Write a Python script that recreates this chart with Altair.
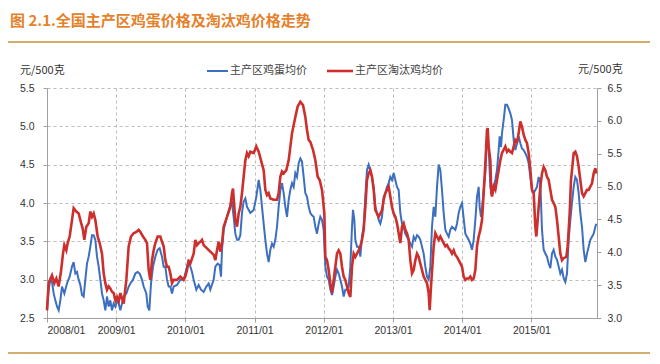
import altair as alt
import pandas as pd

# ---------------- data (week index since 2008/01, price in 元/500克) ----------------
# 主产区鸡蛋均价 (left axis)
egg_weeks_a = [0, 1.25, 2.5, 3.75, 5, 6.25, 7.5, 8.75, 10, 11.25, 13, 15, 17, 18.75, 20, 21.25, 22.5, 23.75, 25, 26.25,
               27.5, 28.75, 30, 31.25, 32.5, 33.75, 35, 36.25, 37.5, 38.75, 40, 41.25, 42.5, 43.75, 45, 46.25, 47.5, 48.75, 50, 51.25,
               52.5, 53.75, 55, 56.25, 57.5, 59.5, 61.25, 62.5, 64.5, 66.25, 68, 69.5, 71.25, 72.5, 74.5, 75.5, 76.75, 78, 79.5, 81.25,
               83, 84.5, 86.25, 87.5, 88.75, 90, 91.25, 92.5, 93.75, 95, 97.5, 100]
egg_vals_a = [2.60, 2.87, 3.00, 2.97, 2.82, 2.73, 2.65, 2.60, 2.73, 2.91, 2.82, 2.95, 3.04, 3.17, 3.23, 3.08, 3.10, 3.00, 2.93, 2.80,
              2.78, 3.00, 3.21, 3.30, 3.43, 3.58, 3.58, 3.52, 3.30, 3.17, 3.00, 2.82, 2.73, 2.60, 2.78, 2.65, 2.73, 2.60, 2.69, 2.65,
              2.73, 2.69, 2.60, 2.69, 2.78, 2.82, 2.91, 2.95, 3.00, 3.08, 3.10, 3.08, 3.00, 2.91, 2.82, 2.65, 2.60, 2.95, 3.17, 3.30,
              3.39, 3.41, 3.30, 3.17, 3.17, 3.00, 2.91, 2.91, 2.82, 2.91, 2.93, 3.00]
egg_weeks_b = [102.5, 105, 106.25, 107.5, 108.75, 110, 112, 113.75, 115.5, 117.5, 119.5, 121.25, 122.5, 125, 126.25, 128, 129.5, 130.5, 131.25, 132.5,
               135, 137.5, 138.75, 140, 141.25, 142.5, 143.75, 145, 146.25, 147.5, 148.75, 150, 152.5, 155, 157, 158.75, 160, 161.25, 162.5, 163.75,
               165, 166.25, 167.5, 168.75, 170, 171.25, 172.5, 173.75, 175, 176.25, 177.5, 178.75, 180, 181.25, 182.5, 183.75, 185, 186.25, 187.5, 188.75,
               190, 191.25, 192.5, 193.75, 195, 196.25, 197.5, 198.75, 200, 201.25, 202.5, 203.75, 205]
egg_vals_b = [3.00, 3.17, 3.26, 3.17, 3.10, 3.00, 2.87, 2.93, 2.87, 2.84, 2.91, 2.95, 2.87, 3.00, 3.17, 3.21, 3.19, 3.04, 3.39, 3.65,
              3.82, 3.97, 4.00, 3.82, 3.60, 3.52, 3.52, 3.58, 3.87, 4.02, 4.06, 3.95, 3.87, 3.91, 4.08, 4.30, 4.17, 3.95, 3.73, 3.52,
              3.34, 3.23, 3.39, 3.47, 3.43, 3.52, 3.69, 3.95, 4.17, 4.26, 4.13, 3.95, 3.82, 4.04, 4.17, 4.26, 4.21, 4.39, 4.34, 4.52,
              4.58, 4.54, 4.34, 4.13, 4.08, 3.95, 3.87, 3.84, 3.82, 3.69, 3.60, 3.73, 3.82]
egg_weeks_c = [206.25, 207.5, 208.75, 210, 211.25, 212.5, 213.75, 215, 216.25, 217.5, 218.75, 220, 221.25, 222.5, 223.75, 225, 226.25, 227.5, 228.75, 229.5,
               230.5, 231.25, 232.5, 233.75, 235, 236.25, 237.5, 238.75, 240, 241.25, 242.5, 243.75, 245, 246.25, 247.5, 248.75, 250, 251.25, 252.5, 253.75,
               255, 256.25, 257.5, 258.75, 260, 261.25, 262.5, 263.75, 265, 266.25, 267.5, 268.75, 270, 271.25, 272.5, 273.75, 275, 276.25, 277.5, 278.75,
               280, 281.25, 282.5, 283.75, 285, 286.25, 287.5, 288.75, 290, 291.25, 292.5, 293.75, 295, 296.25, 297.5, 298.75, 300, 301.25, 302.5, 303.75,
               305, 306.25, 307.5, 308.75, 310, 311.25]
egg_vals_c = [3.78, 3.65, 3.17, 3.04, 3.00, 2.87, 2.80, 2.91, 3.04, 3.13, 3.08, 3.00, 2.91, 2.78, 2.87, 2.87, 2.91, 3.17, 3.69, 3.91,
              3.78, 3.52, 3.43, 3.43, 3.30, 3.56, 3.69, 4.08, 4.43, 4.50, 4.43, 4.34, 4.21, 3.95, 3.87, 3.78, 3.73, 3.82, 4.08, 4.13,
              4.21, 4.26, 4.34, 4.30, 4.39, 4.30, 4.21, 4.17, 3.87, 3.73, 3.69, 3.60, 3.56, 3.52, 3.47, 3.43, 3.56, 3.52, 3.58, 3.56,
              3.52, 3.43, 3.34, 3.17, 3.04, 3.00, 3.17, 3.69, 3.95, 3.82, 4.21, 4.50, 4.43, 4.17, 3.87, 3.65, 3.60, 3.56, 3.65, 3.69,
              3.67, 3.65, 3.73, 3.87, 3.95, 4.00]
egg_weeks_d = [313.75, 315, 316.25, 317.5, 318.75, 320, 321.25, 322.5, 323.75, 324.5, 325.5, 326.25, 327.5, 328.75, 330, 331.25, 332.5, 333.75, 335, 336.25,
               337.5, 338.75, 339.5, 340.5, 341.25, 342.5, 343.75, 345, 346.25, 347.5, 348.75, 350, 351.25, 352.5, 353.75, 355, 356.25, 357.5, 358.75, 360,
               361.25, 362.5, 363.75, 365, 366.25, 367.5, 368.75, 370, 371.25, 372.5, 373.75, 375, 376.25, 377.5, 378.75, 380, 381.25, 382.5, 383.75, 385,
               386.25, 387.5, 388.75, 390, 391.25, 392.5, 393.75, 395, 396.25, 397.5, 398.75, 400, 401.25, 402.5, 403.75, 405, 406.25, 407.5, 408.75, 410,
               411.25, 412]
egg_vals_d = [3.60, 3.56, 3.52, 3.47, 3.39, 3.52, 3.78, 4.08, 4.21, 3.95, 3.82, 3.91, 4.17, 4.39, 4.87, 4.73, 4.21, 4.10, 4.21, 4.30,
              4.43, 4.69, 4.87, 4.73, 4.91, 5.08, 5.28, 5.28, 5.23, 5.17, 5.08, 4.82, 4.69, 4.78, 4.87, 4.78, 4.71, 4.69, 4.65, 4.60,
              4.52, 4.34, 4.17, 4.13, 4.17, 4.21, 4.34, 4.26, 3.65, 3.39, 3.34, 3.30, 3.21, 3.15, 3.34, 3.39, 3.30, 3.26, 3.17, 3.08,
              3.13, 3.02, 2.97, 3.08, 3.52, 3.78, 4.00, 4.21, 4.34, 4.30, 4.13, 3.87, 3.69, 3.39, 3.23, 3.34, 3.43, 3.52, 3.56, 3.60,
              3.69, 3.73]

# 主产区淘汰鸡均价 (right axis)
hen_weeks_a = [0, 1.25, 3.75, 5.5, 7, 8.75, 10.5, 12, 13, 14.5, 15.5, 17, 18.75, 20, 22, 23.75, 25, 26.75, 28, 29.5,
               31.25, 32.5, 33.75, 35, 36.25, 38, 39.5, 41.25, 42.5, 43.75, 45, 46.25, 47.5, 48.75, 50, 51.25, 52.5, 53.75, 55, 57.5,
               59.5, 61.25, 63, 65, 67, 68.75, 70, 72, 73.75, 75, 76.25, 77.5, 78.75, 80, 81.25, 83, 85, 86.25, 87.5, 88.75,
               90, 91.25, 92.5, 93.75, 95, 97.5, 100]
hen_vals_a = [3.12, 3.53, 3.65, 3.53, 3.60, 3.48, 3.71, 3.98, 4.11, 4.03, 4.14, 4.24, 4.49, 4.67, 4.62, 4.59, 4.49, 4.36, 4.19, 4.39,
              4.44, 4.62, 4.54, 4.59, 4.49, 4.24, 4.14, 3.98, 3.68, 3.53, 3.43, 3.48, 3.45, 3.40, 3.38, 3.27, 3.32, 3.25, 3.38, 3.22,
              3.58, 4.09, 4.24, 4.29, 4.31, 4.34, 4.31, 4.24, 4.19, 4.14, 3.73, 3.58, 3.88, 4.03, 4.14, 4.24, 4.24, 4.16, 4.09, 3.88,
              3.78, 3.78, 3.68, 3.53, 3.58, 3.58, 3.63]
hen_weeks_b = [102.5, 103.75, 105, 106.25, 107.5, 110, 111.25, 112.5, 113.75, 115, 116.25, 117.5, 120, 122.5, 125, 126.25, 127.5, 128.75, 130, 131.25,
               132.5, 135, 137.5, 138.75, 139.5, 140.5, 141.25, 142.5, 143.75, 145, 146.25, 147.5, 148.75, 150, 151.25, 152.5, 155, 157, 158.75, 160.5,
               162.5, 163.75, 165, 166.25, 167.5, 170, 172.5, 173.75, 175, 176.25, 177.5, 179.5, 181.25, 183.75, 186.25, 188, 190, 192, 193.75, 195,
               196.25, 197.5, 199.5, 201.25, 203, 204.5, 206.25, 207, 208, 208.75]
hen_vals_b = [3.58, 3.63, 3.73, 3.86, 3.83, 3.98, 4.19, 4.11, 4.14, 4.16, 4.19, 4.11, 4.06, 4.01, 3.96, 3.88, 4.03, 4.16, 4.01, 4.14,
              4.39, 4.54, 4.69, 4.90, 4.97, 4.69, 4.49, 4.39, 4.59, 4.69, 4.90, 5.15, 5.40, 5.51, 5.46, 5.53, 5.51, 5.61, 5.53, 5.40,
              5.25, 4.95, 4.87, 4.90, 4.82, 4.80, 4.80, 4.90, 5.15, 5.23, 5.20, 5.25, 5.40, 5.81, 6.06, 6.22, 6.29, 6.24, 6.06, 5.86,
              5.71, 5.68, 5.56, 5.40, 5.15, 5.10, 4.95, 4.80, 4.59, 3.93]
hen_weeks_c = [210, 211.25, 212.5, 213.75, 215, 216.25, 217.5, 218.75, 220, 221.25, 222.5, 223.75, 225, 226.25, 227.5, 228.75, 230, 231.25, 232.5, 233.75,
               235, 236.25, 237.5, 238.75, 240, 241.25, 242.5, 243.75, 245, 246.25, 247.5, 248.75, 250, 251.25, 252.5, 253.75, 255, 256.25, 257.5, 258.75,
               260, 261.25, 262.5, 263.75, 265, 266.25, 267.5, 268.75, 270, 271.25, 272.5, 273.75, 275, 276.25, 277.5, 278.75, 280, 281.25, 282.5, 283.75,
               285, 286.25, 287, 288, 289, 290, 291.25, 292.5, 293.75, 295, 296.25, 297.5, 298.75, 300, 301.25, 302.5, 303.75, 305, 306.25, 307.5,
               308.75, 310, 311.25, 312.5, 313.75, 315]
hen_vals_c = [3.88, 3.73, 3.53, 3.38, 3.58, 3.78, 3.98, 4.03, 3.98, 3.78, 3.63, 3.58, 3.48, 3.38, 3.32, 3.78, 3.98, 3.93, 3.98, 4.03,
              4.09, 4.19, 4.34, 4.69, 5.10, 5.20, 5.25, 5.15, 4.95, 4.64, 4.59, 4.54, 4.59, 4.64, 4.80, 4.90, 4.95, 5.00, 4.85, 4.69,
              4.59, 4.54, 4.44, 4.29, 4.14, 4.39, 4.44, 4.34, 4.29, 4.19, 3.88, 3.68, 3.73, 3.88, 3.98, 3.93, 3.83, 3.73, 3.63, 3.58,
              3.53, 3.38, 3.12, 3.48, 3.78, 4.09, 4.29, 4.24, 4.19, 4.24, 4.19, 4.14, 4.09, 4.11, 4.06, 4.03, 3.98, 4.03, 3.96, 3.93,
              3.88, 3.83, 3.78, 3.63, 3.58, 3.60]
hen_weeks_d = [316.25, 317.5, 318.75, 320, 321.25, 322.5, 323.75, 325, 326.25, 327.5, 328.75, 330, 330.5, 331.25, 332.5, 333.25, 333.75, 335, 336.25, 337.5,
               338.75, 340, 341.25, 342.5, 343.75, 345, 346.25, 347.5, 348.75, 350, 351.25, 352.5, 353.75, 355, 356.25, 357.5, 358.75, 360, 361.25, 362.5,
               363.75, 365, 366.25, 367, 368, 368.75, 370, 371.25, 372.5, 373.75, 375, 376.25, 377.5, 378.75, 380, 381.25, 382.5, 383.75, 385, 386.25,
               387.5, 389.5, 390.5, 392, 393, 394, 395, 396.25, 397.5, 398.75, 400, 401.25, 402.5, 403.75, 405, 406.25, 407.5, 408.75, 410, 411.25,
               412]
hen_vals_d = [3.60, 3.63, 3.58, 3.60, 3.73, 4.09, 4.24, 4.34, 4.49, 4.90, 5.35, 5.86, 5.89, 5.61, 5.40, 4.90, 4.85, 5.00, 4.95, 5.10,
              5.25, 5.40, 5.51, 5.56, 5.61, 5.53, 5.56, 5.53, 5.51, 5.61, 5.71, 5.68, 5.81, 5.99, 5.91, 5.79, 5.71, 5.66, 5.51, 5.25,
              4.95, 4.90, 4.39, 4.24, 4.49, 4.69, 5.00, 5.20, 5.30, 5.25, 5.15, 5.10, 4.95, 4.80, 4.75, 4.69, 4.49, 4.24, 3.98, 3.88,
              3.91, 3.93, 4.09, 4.59, 5.10, 5.30, 5.51, 5.53, 5.46, 5.30, 5.10, 4.90, 4.85, 4.90, 4.95, 4.95, 5.00, 5.05, 5.20, 5.28,
              5.20]

year_labels = ["2008/01", "2009/01", "2010/01", "2011/01", "2012/01", "2013/01", "2014/01", "2015/01"]
left_ticks = [2.5, 3.0, 3.5, 4.0, 4.5, 5.0, 5.5]
right_ticks = [3.0, 3.5, 4.0, 4.5, 5.0, 5.5, 6.0, 6.5]

title_text = "图 2.1.全国主产区鸡蛋价格及淘汰鸡价格走势"
unit_text = "元/500克"
egg_name = "主产区鸡蛋均价"
hen_name = "主产区淘汰鸡均价"

# ---------------- chart ----------------
BLUE = "#3D6FC0"
RED = "#CC2F2C"
ORANGE = "#E5812A"
TAN = "#D2AE6E"
GRID = "#BDBDBD"
AXIS = "#A0A0A0"
LBL = "#333333"
NUM_FONT = "Liberation Sans"
CJK = "Noto Sans CJK SC"
YEAR = 51.9

egg = pd.DataFrame({"week": egg_weeks_a + egg_weeks_b + egg_weeks_c + egg_weeks_d,
                    "price": egg_vals_a + egg_vals_b + egg_vals_c + egg_vals_d})
hen = pd.DataFrame({"week": hen_weeks_a + hen_weeks_b + hen_weeks_c + hen_weeks_d,
                    "price": hen_vals_a + hen_vals_b + hen_vals_c + hen_vals_d})

tick_vals = [round(i * YEAR, 2) for i in range(len(year_labels))]
label_expr = "[" + ",".join("'" + s + "'" for s in year_labels) + "][round(datum.value / " + str(YEAR) + ")]"

x_scale = alt.Scale(domain=[0, 412.5], nice=False, zero=False)


def x_axis():
    return alt.Axis(values=tick_vals, labelExpr=label_expr, title=None, grid=True,
                    gridDash=[3, 3], gridColor=GRID, gridWidth=1,
                    domainColor=AXIS, tickColor=AXIS, tickSize=4,
                    labelFont=NUM_FONT, labelFontSize=10.5, labelColor=LBL, labelPadding=3)


blue = alt.Chart(egg).mark_line(color=BLUE, strokeWidth=2).encode(
    x=alt.X("week:Q", scale=x_scale, axis=x_axis()),
    y=alt.Y("price:Q", scale=alt.Scale(domain=[2.5, 5.5], nice=False, zero=False),
            axis=alt.Axis(values=left_ticks, format=".1f", title=None, grid=True,
                          gridDash=[3, 3], gridColor=GRID, domainColor=AXIS, tickColor=AXIS,
                          tickSize=4, labelFont=NUM_FONT, labelFontSize=10.5, labelColor=LBL,
                          labelPadding=9)),
)

red = alt.Chart(hen).mark_line(color=RED, strokeWidth=2.6).encode(
    x=alt.X("week:Q", scale=x_scale, axis=x_axis()),
    y=alt.Y("price:Q", scale=alt.Scale(domain=[3.0, 6.5], nice=False, zero=False),
            axis=alt.Axis(orient="right", values=right_ticks, format=".1f", title=None, grid=False,
                          domainColor=AXIS, tickColor=AXIS, tickSize=4, labelFont=NUM_FONT,
                          labelFontSize=10.5, labelColor=LBL, labelPadding=6)),
)

one = pd.DataFrame({"k": [0]})


def label(text, x, y, size=11, color=LBL, font=CJK, weight="normal", align="left"):
    return alt.Chart(pd.DataFrame({"t": [text]})).mark_text(
        align=align, baseline="middle", font=font, fontSize=size, color=color, fontWeight=weight
    ).encode(text="t:N", x=alt.value(x), y=alt.value(y))


def hline(x1, x2, y, color, width):
    return alt.Chart(one).mark_rule(color=color, strokeWidth=width).encode(
        x=alt.value(x1), x2=alt.value(x2), y=alt.value(y))


decor = [
    label(title_text, -37, -67, size=15, color=ORANGE, weight="bold"),
    hline(-39, 603, -46, TAN, 2),
    hline(-39, 603, 265, TAN, 2),
    label(unit_text, -27, -17),
    label(unit_text, 531, -18),
    hline(160, 181, -17, BLUE, 2),
    label(egg_name, 183, -17, color="#444444"),
    hline(280, 306, -17, RED, 2.6),
    label(hen_name, 308, -17, color="#444444"),
]

chart = alt.layer(blue, red, *decor).resolve_scale(y="independent").properties(
    width=550, height=230,
    autosize=alt.AutoSizeParams(type="none"),
    padding={"left": 39, "top": 80, "right": 55, "bottom": 38},
    background="#FFFFFF",
).configure_view(stroke=None)

chart.save("out.html", embed_options={"renderer": "svg", "actions": False})
